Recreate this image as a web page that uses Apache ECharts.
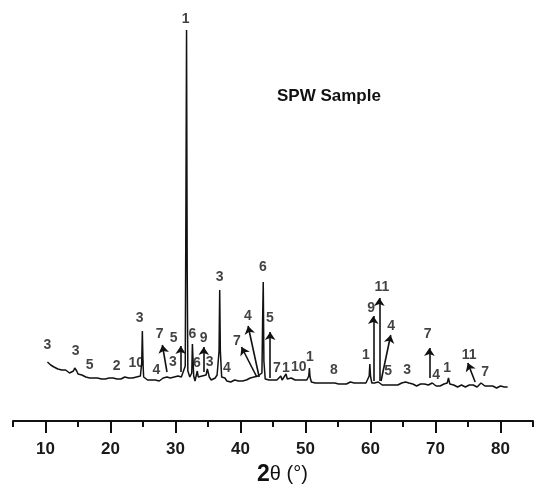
<!DOCTYPE html>
<html><head><meta charset="utf-8">
<script src="https://cdn.jsdelivr.net/npm/echarts@6/dist/echarts.min.js"></script>
<style>html,body{margin:0;padding:0;background:#fff}#c{width:534px;height:494px}</style>
</head><body><div id="c"></div>
<script>
// XRD pattern: [2theta (deg), intensity (a.u.)]
var pattern = [
[10.3,59],[10.5,58],[10.8,56],[11.0,55],[11.3,54],[11.6,55],[11.9,52],[12.2,53],[12.5,51],[12.8,50],
[13.1,51],[13.4,49],[13.7,48],[14.0,48],[14.3,50],[14.5,53],[14.6,54],[14.8,50],[15.0,47],[15.3,46],
[15.6,46],[15.9,45],[16.2,44],[16.5,45],[16.8,43],[17.1,44],[17.4,43],[17.7,42],[18.0,43],[18.3,44],
[18.6,42],[18.9,43],[19.2,42],[19.5,41],[19.8,43],[20.1,42],[20.4,43],[20.7,41],[21.0,42],[21.3,43],
[21.6,42],[21.9,43],[22.2,44],[22.5,42],[22.8,43],[23.1,44],[23.4,43],[23.7,45],[24.0,44],[24.3,44],
[24.6,45],[24.8,58],[24.9,90],[25.0,58],[25.1,44],[25.4,42],[25.7,41],[26.0,40],[26.3,41],[26.6,39],
[26.9,41],[27.2,42],[27.5,40],[27.8,41],[28.1,43],[28.4,41],[28.7,44],[29.0,46],[29.2,43],[29.5,42],
[29.8,44],[30.1,43],[30.4,45],[30.7,46],[30.9,44],[31.2,46],[31.5,55],[31.6,210],[31.7,391],[31.8,150],
[31.9,50],[32.2,44],[32.5,48],[32.6,77],[32.7,76],[32.8,45],[33.0,40],[33.2,42],[33.35,50],[33.5,44],
[33.8,42],[34.1,45],[34.4,43],[34.7,46],[34.9,52],[35.0,54],[35.2,44],[35.5,41],[35.8,42],[36.1,43],
[36.4,46],[36.7,70],[36.8,131],[36.9,70],[37.1,44],[37.4,46],[37.6,43],[37.9,40],[38.2,41],[38.5,39],
[38.8,40],[39.1,41],[39.4,39],[39.7,40],[40.0,41],[40.3,40],[40.6,42],[40.9,41],[41.2,42],[41.5,43],
[41.8,42],[42.1,44],[42.4,43],[42.7,45],[43.0,44],[43.3,48],[43.4,100],[43.5,139],[43.6,60],[43.8,42],
[44.1,40],[44.4,41],[44.7,40],[45.0,41],[45.3,42],[45.6,41],[45.9,43],[46.2,45],[46.4,41],[46.7,42],
[47.0,47],[47.2,42],[47.5,41],[47.8,43],[48.1,44],[48.4,41],[48.7,42],[49.0,41],[49.3,40],[49.6,41],
[49.9,42],[50.2,41],[50.5,45],[50.6,53],[50.7,44],[50.9,39],[51.2,40],[51.5,38],[51.8,39],[52.1,38],
[52.4,39],[52.7,38],[53.0,37],[53.3,38],[53.6,39],[53.9,38],[54.2,40],[54.5,38],[54.8,39],[55.1,37],
[55.4,38],[55.7,37],[56.0,38],[56.3,37],[56.6,38],[56.9,39],[57.2,37],[57.5,38],[57.8,37],[58.1,38],
[58.4,37],[58.7,38],[59.0,37],[59.3,38],[59.6,39],[59.8,45],[59.9,57],[60.0,45],[60.2,38],[60.4,40],
[60.6,38],[60.9,37],[61.2,39],[61.5,37],[61.8,36],[62.1,37],[62.4,36],[62.7,37],[63.0,36],[63.3,37],
[63.6,36],[63.9,37],[64.2,36],[64.5,37],[64.8,38],[65.1,37],[65.4,39],[65.7,40],[65.9,38],[66.2,36],
[66.5,37],[66.8,36],[67.1,35],[67.4,36],[67.7,37],[68.0,36],[68.3,37],[68.6,35],[68.9,36],[69.2,37],
[69.5,38],[69.8,36],[70.1,35],[70.4,36],[70.7,35],[71.0,36],[71.3,37],[71.6,36],[71.8,38],[72.0,43],
[72.2,37],[72.5,35],[72.8,36],[73.1,35],[73.4,34],[73.7,35],[74.0,36],[74.3,35],[74.6,34],[74.9,35],
[75.2,36],[75.5,35],[75.8,36],[76.1,35],[76.4,34],[76.7,36],[77.0,38],[77.3,36],[77.6,35],[77.9,34],
[78.2,35],[78.5,34],[78.8,35],[79.1,34],[79.4,33],[79.7,34],[80.0,35],[80.3,34],[80.6,34],[80.9,33],
[81.1,34]
];

// phase labels: [2theta, intensity, text]
var phaseLabels = [
[10.31,76,'3'],[14.62,70,'3'],[16.78,56,'5'],[20.94,55,'2'],[23.98,58,'10'],[24.48,103,'3'],
[27.06,51,'4'],[27.57,87,'7'],[29.61,59,'3'],[29.72,83,'5'],[31.57,402,'1'],[32.60,87,'6'],
[33.31,58,'6'],[34.34,83,'9'],[35.27,59,'3'],[36.81,144,'3'],[37.89,53,'4'],[39.43,80,'7'],
[41.12,105,'4'],[43.44,154,'6'],[44.51,103,'5'],[45.59,53,'7'],[46.98,53,'1'],[48.98,54,'10'],
[50.68,64,'1'],[54.38,51,'8'],[59.31,66,'1'],[60.08,113,'9'],[61.77,134,'11'],[63.16,95,'4'],
[62.70,50,'5'],[65.62,51,'3'],[68.78,87,'7'],[70.09,46,'4'],[71.79,53,'1'],[75.18,66,'11'],[77.64,49,'7']
];

// arrows: [from 2theta, from intensity, to 2theta, to intensity]
var arrows = [
[28.69,49,27.98,76],[30.80,49,30.80,75],[34.35,49,34.35,74],
[42.51,44,40.15,74],[42.87,44,41.17,95],[44.56,43,44.56,89],
[60.43,40,60.43,105],[61.36,40,61.36,123],[61.62,40,63.11,86],
[69.06,43,69.06,73],[76.10,39,74.97,58]
];

var majorTicks = [10,20,30,40,50,60,70,80];
var minorTicks = [5,15,25,35,45,55,65,75,85];

var chart = echarts.init(document.getElementById('c'), null, {renderer:'canvas'});
var FONT = "'Liberation Sans', Arial, sans-serif";
var arrowData = arrows.map(function(a){
  return [{coord:[a[0],a[1]]},{coord:[a[2],a[3]]}];
});
chart.setOption({
  animation:false,
  backgroundColor:'#fff',
  grid:{left:13,right:1,top:11,bottom:73},
  xAxis:[{
    type:'value',min:5,max:85,
    axisLine:{show:true,lineStyle:{color:'#111',width:2}},
    axisTick:{show:true,customValues:majorTicks,length:12,lineStyle:{color:'#111',width:2}},
    axisLabel:{show:true,customValues:majorTicks,margin:20,color:'#1a1a1a',fontSize:17,fontWeight:'bold',fontFamily:FONT},
    splitLine:{show:false}
  },{
    type:'value',min:5,max:85,position:'bottom',
    axisLine:{show:false},
    axisTick:{show:true,customValues:minorTicks,length:6,lineStyle:{color:'#111',width:2}},
    axisLabel:{show:false},
    splitLine:{show:false}
  }],
  yAxis:{type:'value',min:0,max:410,show:false},
  graphic:[{
    type:'text',left:257,top:463,
    style:{text:'{a|2}{b|θ (°)}',rich:{a:{fontSize:23,fontWeight:'bold',fontFamily:FONT,fill:'#111'},b:{fontSize:20,fontFamily:FONT,fill:'#111'}}}
  },{
    type:'text',left:277,top:88,
    style:{text:'SPW Sample',fontSize:17,fontWeight:'bold',fontFamily:FONT,fill:'#111'}
  }],
  series:[{
    type:'line',data:pattern,showSymbol:false,
    lineStyle:{color:'#111',width:1.5},
    markLine:{
      silent:true,symbol:['none','arrow'],symbolSize:8,
      label:{show:false},
      lineStyle:{color:'#111',width:1.6,type:'solid'},
      emphasis:{disabled:true},
      data:arrowData
    }
  },{
    type:'scatter',data:phaseLabels,symbolSize:0,
    label:{show:true,position:'inside',formatter:function(p){return p.value[2];},
      color:'#111',fontSize:14,fontWeight:'bold',fontFamily:FONT}
  }]
});
</script></body></html>
